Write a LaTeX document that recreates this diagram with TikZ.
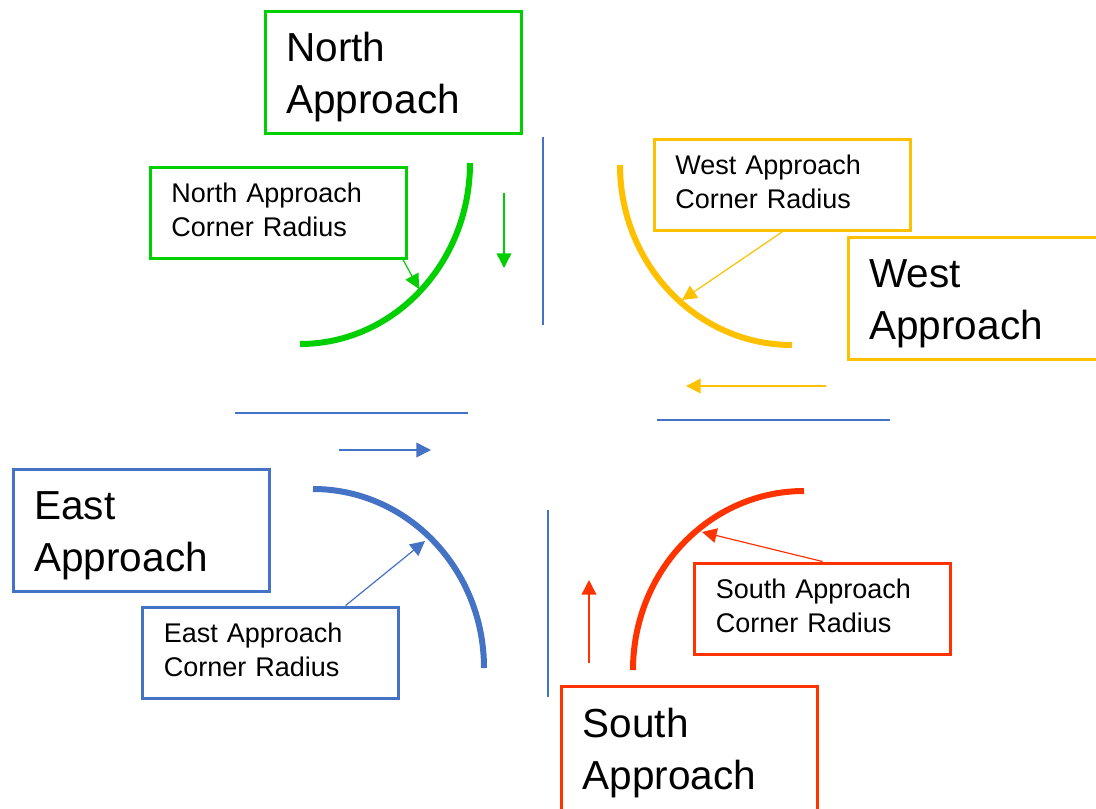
\documentclass[tikz,border=0pt]{standalone}
\usepackage{fontspec}
\setmainfont{Liberation Sans}
\usetikzlibrary{arrows.meta,calc}
\definecolor{cgreen}{HTML}{00D000}
\definecolor{corange}{HTML}{FFC000}
\definecolor{cblue}{HTML}{4472C4}
\definecolor{cred}{HTML}{FF3300}
\newcommand{\bigdown}{\rule{0pt}{29.5pt}}
\newcommand{\smallup}{\rule[-4.5pt]{0pt}{1pt}}
\begin{document}
\begin{tikzpicture}[x=0.75pt,y=-0.75pt,
  bigbox/.style={draw, text=black, line width=2.25pt, minimum width=192pt, minimum height=91.5pt,
    text width=160pt, inner xsep=16pt, align=left, font=\fontsize{30.4}{39}\selectfont},
  smallbox/.style={draw, text=black, line width=2.25pt, minimum width=192pt, minimum height=68.25pt,
    text width=160pt, inner xsep=16pt, align=left, font=\fontsize{20.25}{25.5}\selectfont},
  curb/.style={line width=4.5pt},
  flow/.style={line width=1.1pt, -{Triangle[length=11pt,width=11pt]}},
  callout/.style={line width=0.9pt, -{Triangle[length=11pt,width=11pt]}},
  lane/.style={cblue, line width=1pt}]
\useasboundingbox (0,0) rectangle (1096,808);

% boxes
\node[bigbox, draw=cgreen] (north) at (393,72) {\bigdown North\\Approach};
\node[smallbox, draw=cgreen] (ncr) at (278,212.5) {North Approach\\Corner Radius\smallup};
\node[smallbox, draw=corange] (wcr) at (782,185) {West Approach\\Corner Radius\smallup};
\node[bigbox, draw=corange] (west) at (976,298.5) {\bigdown West\\Approach};
\node[bigbox, draw=cblue] (east) at (141,530.5) {\bigdown East\\Approach};
\node[smallbox, draw=cblue] (ecr) at (270.5,652.5) {East Approach\\Corner Radius\smallup};
\node[smallbox, draw=cred] (scr) at (822.5,608.5) {South Approach\\Corner Radius\smallup};
\node[bigbox, draw=cred, minimum height=93pt] (south) at (689.5,748) {\bigdown South\\Approach};

% corner radius curves
\draw[curb, cgreen] (470,163) arc[start angle=0, end angle=90, x radius=170, y radius=181];
\draw[curb, corange] (620,165) arc[start angle=180, end angle=90, x radius=172, y radius=180];
\draw[curb, cblue] (313,489) arc[start angle=270, end angle=360, x radius=171, y radius=179];
\draw[curb, cred] (804,491) arc[start angle=270, end angle=180, x radius=171, y radius=179];

% lane lines
\coordinate (l1a) at (543,137); \coordinate (l1b) at (543,325);
\coordinate (l2a) at (235,413); \coordinate (l2b) at (468,413);
\coordinate (l3a) at (657,420); \coordinate (l3b) at (890,420);
\coordinate (l4a) at (548,510); \coordinate (l4b) at (548,697);
\draw[lane] (l1a) -- (l1b);
\draw[lane] (l2a) -- (l2b);
\draw[lane] (l3a) -- (l3b);
\draw[lane] (l4a) -- (l4b);

% traffic direction arrows
\coordinate (gA) at (504,193); \coordinate (gB) at (504,268);
\coordinate (oA) at (826,386); \coordinate (oB) at (686,386);
\coordinate (bA) at (339,450); \coordinate (bB) at (431,450);
\coordinate (rA) at (589,663); \coordinate (rB) at (589,580);
\draw[flow, cgreen] (gA) -- (gB);
\draw[flow, corange] (oA) -- (oB);
\draw[flow, cblue] (bA) -- (bB);
\draw[flow, cred] (rA) -- (rB);

% callout arrows
\coordinate (ntip) at (419,289);
\coordinate (wtip) at (682,300);
\coordinate (etip) at (425,541);
\coordinate (stip) at (702,532);
\draw[callout, cgreen] ([xshift=-4.5pt,yshift=2pt]ncr.south east) -- (ntip);
\draw[callout, corange] (wcr.south) -- (wtip);
\draw[callout, cblue] ($(ecr.north west)!0.79!(ecr.north east)$) -- (etip);
\draw[callout, cred] (scr.north) -- (stip);
\end{tikzpicture}
\end{document}
